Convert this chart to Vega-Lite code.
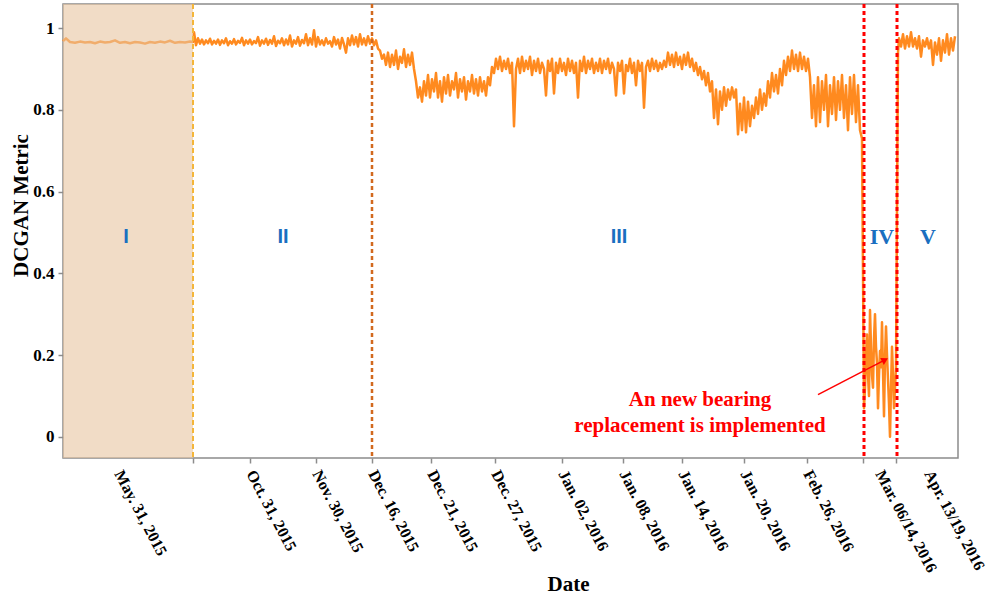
{
  "$schema": "https://vega.github.io/schema/vega-lite/v6.json",
  "width": 895,
  "height": 454,
  "autosize": "none",
  "padding": {"left": 63, "top": 4, "right": 36, "bottom": 139},
  "background": "white",
  "config": {
    "view": {"stroke": "#8c8c8c", "strokeWidth": 1.5},
    "axis": {"grid": false, "domain": false, "tickColor": "#8c8c8c", "tickSize": 5, "tickWidth": 1.5,
      "labelFont": "Liberation Serif", "labelFontWeight": "bold", "labelColor": "black",
      "titleFont": "Liberation Serif", "titleFontWeight": "bold", "titleColor": "black"}
  },
  "datasets": {
    "metric": [
      {"t":63,"v":0.968},{"t":66,"v":0.975},{"t":70,"v":0.966},{"t":75,"v":0.964},{"t":80,"v":0.967},{"t":85,"v":0.965},{"t":90,"v":0.966},{"t":95,"v":0.963},{"t":100,"v":0.967},{"t":105,"v":0.965},{"t":110,"v":0.966},{"t":115,"v":0.970},{"t":120,"v":0.964},{"t":125,"v":0.966},{"t":130,"v":0.963},{"t":135,"v":0.966},{"t":140,"v":0.965},{"t":145,"v":0.962},{"t":150,"v":0.966},{"t":155,"v":0.964},{"t":160,"v":0.967},{"t":165,"v":0.965},{"t":170,"v":0.969},{"t":175,"v":0.964},{"t":180,"v":0.966},{"t":185,"v":0.965},{"t":190,"v":0.967},{"t":193,"v":0.966},
      {"t":194,"v":0.99},{"t":196,"v":0.958},{"t":198,"v":0.975},{"t":200,"v":0.962},{"t":202,"v":0.972},{"t":204,"v":0.96},{"t":206,"v":0.97},{"t":208,"v":0.963},{"t":210,"v":0.974},{"t":212,"v":0.96},{"t":214,"v":0.969},{"t":216,"v":0.962},{"t":218,"v":0.972},{"t":220,"v":0.959},{"t":222,"v":0.97},{"t":224,"v":0.963},{"t":226,"v":0.975},{"t":228,"v":0.958},{"t":230,"v":0.968},{"t":232,"v":0.962},{"t":234,"v":0.973},{"t":236,"v":0.96},{"t":238,"v":0.969},{"t":240,"v":0.964},{"t":242,"v":0.976},{"t":244,"v":0.958},{"t":246,"v":0.97},{"t":248,"v":0.962},{"t":250,"v":0.972},{"t":252,"v":0.96},{"t":254,"v":0.968},{"t":256,"v":0.963},{"t":258,"v":0.978},{"t":260,"v":0.957},{"t":262,"v":0.97},{"t":264,"v":0.962},{"t":266,"v":0.974},{"t":268,"v":0.959},{"t":270,"v":0.971},{"t":272,"v":0.962},{"t":274,"v":0.98},{"t":276,"v":0.956},{"t":278,"v":0.969},{"t":280,"v":0.963},{"t":282,"v":0.975},{"t":284,"v":0.958},{"t":286,"v":0.972},{"t":288,"v":0.96},{"t":290,"v":0.982},{"t":292,"v":0.955},{"t":294,"v":0.97},{"t":296,"v":0.962},{"t":298,"v":0.978},{"t":300,"v":0.957},{"t":302,"v":0.971},{"t":304,"v":0.963},{"t":306,"v":0.985},{"t":308,"v":0.958},{"t":310,"v":0.975},{"t":312,"v":0.96},{"t":314,"v":0.995},{"t":316,"v":0.955},{"t":318,"v":0.978},{"t":320,"v":0.96},{"t":322,"v":0.97},{"t":324,"v":0.958},{"t":326,"v":0.975},{"t":328,"v":0.962},{"t":330,"v":0.968},{"t":332,"v":0.955},{"t":334,"v":0.978},{"t":336,"v":0.96},{"t":338,"v":0.972},{"t":340,"v":0.95},{"t":342,"v":0.976},{"t":344,"v":0.96},{"t":346,"v":0.94},{"t":348,"v":0.975},{"t":350,"v":0.958},{"t":352,"v":0.982},{"t":354,"v":0.96},{"t":356,"v":0.978},{"t":358,"v":0.955},{"t":360,"v":0.985},{"t":362,"v":0.96},{"t":364,"v":0.975},{"t":366,"v":0.958},{"t":368,"v":0.98},{"t":370,"v":0.962},{"t":372,"v":0.975},
      {"t":374,"v":0.958},{"t":376,"v":0.97},{"t":378,"v":0.95},{"t":380,"v":0.945},{"t":382,"v":0.925},{"t":384,"v":0.935},{"t":386,"v":0.91},{"t":388,"v":0.94},{"t":390,"v":0.905},{"t":392,"v":0.935},{"t":394,"v":0.91},{"t":396,"v":0.945},{"t":398,"v":0.9},{"t":400,"v":0.93},{"t":402,"v":0.915},{"t":404,"v":0.948},{"t":406,"v":0.905},{"t":408,"v":0.935},{"t":410,"v":0.91},{"t":412,"v":0.94},{"t":414,"v":0.9},{"t":416,"v":0.87},{"t":418,"v":0.83},{"t":420,"v":0.855},{"t":422,"v":0.82},{"t":424,"v":0.87},{"t":426,"v":0.835},{"t":428,"v":0.885},{"t":430,"v":0.83},{"t":432,"v":0.875},{"t":434,"v":0.845},{"t":436,"v":0.89},{"t":438,"v":0.83},{"t":440,"v":0.87},{"t":442,"v":0.82},{"t":444,"v":0.88},{"t":446,"v":0.84},{"t":448,"v":0.885},{"t":450,"v":0.835},{"t":452,"v":0.87},{"t":454,"v":0.85},{"t":456,"v":0.89},{"t":458,"v":0.83},{"t":460,"v":0.875},{"t":462,"v":0.845},{"t":464,"v":0.88},{"t":466,"v":0.825},{"t":468,"v":0.87},{"t":470,"v":0.845},{"t":472,"v":0.885},{"t":474,"v":0.84},{"t":476,"v":0.875},{"t":478,"v":0.835},{"t":480,"v":0.88},{"t":482,"v":0.845},{"t":484,"v":0.87},{"t":486,"v":0.835},{"t":488,"v":0.88},{"t":490,"v":0.86},{"t":492,"v":0.905},{"t":494,"v":0.89},{"t":496,"v":0.925},{"t":498,"v":0.9},{"t":500,"v":0.93},{"t":502,"v":0.895},{"t":504,"v":0.92},{"t":506,"v":0.9},{"t":508,"v":0.925},{"t":510,"v":0.89},{"t":512,"v":0.915},{"t":514,"v":0.76},{"t":516,"v":0.9},{"t":518,"v":0.925},{"t":520,"v":0.89},{"t":522,"v":0.93},{"t":524,"v":0.895},{"t":526,"v":0.92},{"t":528,"v":0.9},{"t":530,"v":0.93},{"t":532,"v":0.885},{"t":534,"v":0.92},{"t":536,"v":0.895},{"t":538,"v":0.925},{"t":540,"v":0.89},{"t":542,"v":0.915},{"t":544,"v":0.9},{"t":546,"v":0.835},{"t":548,"v":0.92},{"t":550,"v":0.895},{"t":552,"v":0.925},{"t":554,"v":0.84},{"t":556,"v":0.915},{"t":558,"v":0.89},{"t":560,"v":0.925},{"t":562,"v":0.895},{"t":564,"v":0.915},{"t":566,"v":0.885},{"t":568,"v":0.925},{"t":570,"v":0.895},{"t":572,"v":0.92},{"t":574,"v":0.89},{"t":576,"v":0.915},{"t":578,"v":0.83},{"t":580,"v":0.92},{"t":582,"v":0.895},{"t":584,"v":0.93},{"t":586,"v":0.89},{"t":588,"v":0.92},{"t":590,"v":0.9},{"t":592,"v":0.925},{"t":594,"v":0.89},{"t":596,"v":0.915},{"t":598,"v":0.895},{"t":600,"v":0.925},{"t":602,"v":0.89},{"t":604,"v":0.92},{"t":606,"v":0.9},{"t":608,"v":0.925},{"t":610,"v":0.89},{"t":612,"v":0.915},{"t":614,"v":0.9},{"t":616,"v":0.835},{"t":618,"v":0.915},{"t":620,"v":0.895},{"t":622,"v":0.92},{"t":624,"v":0.84},{"t":626,"v":0.91},{"t":628,"v":0.895},{"t":630,"v":0.925},{"t":632,"v":0.89},{"t":634,"v":0.915},{"t":636,"v":0.86},{"t":638,"v":0.92},{"t":640,"v":0.895},{"t":642,"v":0.915},{"t":644,"v":0.805},{"t":646,"v":0.905},{"t":648,"v":0.92},{"t":650,"v":0.895},{"t":652,"v":0.925},{"t":654,"v":0.9},{"t":656,"v":0.92},{"t":658,"v":0.895},{"t":660,"v":0.915},{"t":662,"v":0.9},{"t":664,"v":0.92},{"t":666,"v":0.905},{"t":668,"v":0.94},{"t":670,"v":0.91},{"t":672,"v":0.935},{"t":674,"v":0.905},{"t":676,"v":0.94},{"t":678,"v":0.91},{"t":680,"v":0.93},{"t":682,"v":0.9},{"t":684,"v":0.935},{"t":686,"v":0.91},{"t":688,"v":0.94},{"t":690,"v":0.905},{"t":692,"v":0.925},{"t":694,"v":0.895},{"t":696,"v":0.915},{"t":698,"v":0.885},{"t":700,"v":0.905},{"t":702,"v":0.875},{"t":704,"v":0.895},{"t":706,"v":0.86},{"t":708,"v":0.89},{"t":710,"v":0.845},{"t":712,"v":0.87},{"t":714,"v":0.78},{"t":716,"v":0.85},{"t":718,"v":0.765},{"t":720,"v":0.845},{"t":722,"v":0.8},{"t":724,"v":0.855},{"t":726,"v":0.81},{"t":728,"v":0.85},{"t":730,"v":0.825},{"t":732,"v":0.855},{"t":734,"v":0.83},{"t":736,"v":0.85},{"t":738,"v":0.74},{"t":740,"v":0.815},{"t":742,"v":0.75},{"t":744,"v":0.83},{"t":746,"v":0.745},{"t":748,"v":0.82},{"t":750,"v":0.76},{"t":752,"v":0.81},{"t":754,"v":0.78},{"t":756,"v":0.83},{"t":758,"v":0.79},{"t":760,"v":0.85},{"t":762,"v":0.8},{"t":764,"v":0.84},{"t":766,"v":0.81},{"t":768,"v":0.87},{"t":770,"v":0.83},{"t":772,"v":0.89},{"t":774,"v":0.845},{"t":776,"v":0.885},{"t":778,"v":0.84},{"t":780,"v":0.9},{"t":782,"v":0.86},{"t":784,"v":0.92},{"t":786,"v":0.885},{"t":788,"v":0.93},{"t":790,"v":0.895},{"t":792,"v":0.945},{"t":794,"v":0.9},{"t":796,"v":0.935},{"t":798,"v":0.895},{"t":800,"v":0.94},{"t":802,"v":0.9},{"t":804,"v":0.93},{"t":806,"v":0.895},{"t":808,"v":0.925},{"t":810,"v":0.88},{"t":812,"v":0.78},{"t":814,"v":0.86},{"t":816,"v":0.76},{"t":818,"v":0.88},{"t":820,"v":0.77},{"t":822,"v":0.87},{"t":824,"v":0.8},{"t":826,"v":0.885},{"t":828,"v":0.76},{"t":830,"v":0.86},{"t":832,"v":0.79},{"t":834,"v":0.88},{"t":836,"v":0.775},{"t":838,"v":0.87},{"t":840,"v":0.8},{"t":842,"v":0.885},{"t":844,"v":0.78},{"t":846,"v":0.86},{"t":848,"v":0.75},{"t":850,"v":0.88},{"t":852,"v":0.79},{"t":854,"v":0.885},{"t":856,"v":0.77},{"t":858,"v":0.86},{"t":860,"v":0.75},{"t":862,"v":0.73},
      {"t":864,"v":0.07},{"t":865,"v":0.12},{"t":866,"v":0.2},{"t":867,"v":0.25},{"t":868,"v":0.15},{"t":869,"v":0.1},{"t":870,"v":0.31},{"t":871,"v":0.22},{"t":872,"v":0.15},{"t":873,"v":0.12},{"t":874,"v":0.24},{"t":875,"v":0.3},{"t":876,"v":0.22},{"t":877,"v":0.18},{"t":878,"v":0.07},{"t":879,"v":0.15},{"t":880,"v":0.21},{"t":881,"v":0.17},{"t":882,"v":0.28},{"t":883,"v":0.16},{"t":884,"v":0.05},{"t":885,"v":0.19},{"t":886,"v":0.27},{"t":887,"v":0.2},{"t":888,"v":0.14},{"t":889,"v":0.08},{"t":890,"v":0.0},{"t":891,"v":0.12},{"t":892,"v":0.22},{"t":893,"v":0.15},{"t":894,"v":0.07},{"t":895,"v":0.12},{"t":896,"v":0.17},
      {"t":898,"v":0.94},{"t":899,"v":0.975},{"t":901,"v":0.955},{"t":903,"v":0.985},{"t":905,"v":0.95},{"t":907,"v":0.98},{"t":909,"v":0.955},{"t":911,"v":0.99},{"t":913,"v":0.955},{"t":915,"v":0.975},{"t":917,"v":0.95},{"t":919,"v":0.98},{"t":921,"v":0.93},{"t":923,"v":0.97},{"t":925,"v":0.955},{"t":927,"v":0.975},{"t":929,"v":0.95},{"t":931,"v":0.97},{"t":933,"v":0.91},{"t":935,"v":0.965},{"t":937,"v":0.935},{"t":939,"v":0.975},{"t":941,"v":0.92},{"t":943,"v":0.97},{"t":945,"v":0.94},{"t":947,"v":0.985},{"t":949,"v":0.935},{"t":951,"v":0.975},{"t":953,"v":0.945},{"t":955,"v":0.98}
    ],
    "stages": [
      {"t":126,"v":0.489,"label":"I"},
      {"t":283,"v":0.489,"label":"II"},
      {"t":619,"v":0.489,"label":"III"}
    ],
    "lateStages": [
      {"t":882,"v":0.489,"label":"IV"},
      {"t":928,"v":0.489,"label":"V"}
    ]
  },
  "encoding": {
    "x": {"field": "t", "type": "quantitative",
      "scale": {"domain": [63, 958], "nice": false, "zero": false},
      "axis": {
        "title": "Date", "titleFontSize": 21, "titleX": 505, "titleY": 132, "titleAlign": "center", "titleBaseline": "alphabetic",
        "values": [118, 193, 250, 316, 372, 431, 495, 562, 623, 682, 744, 807, 863, 879, 896, 928],
        "labelExpr": "datum.value == 118 ? 'May. 31, 2015' : datum.value == 250 ? 'Oct. 31, 2015' : datum.value == 316 ? 'Nov. 30, 2015' : datum.value == 372 ? 'Dec. 16, 2015' : datum.value == 431 ? 'Dec. 21, 2015' : datum.value == 495 ? 'Dec. 27, 2015' : datum.value == 562 ? 'Jan. 02, 2016' : datum.value == 623 ? 'Jan. 08, 2016' : datum.value == 682 ? 'Jan. 14, 2016' : datum.value == 744 ? 'Jan. 20, 2016' : datum.value == 807 ? 'Feb. 26, 2016' : datum.value == 879 ? 'Mar. 06/14, 2016' : datum.value == 928 ? 'Apr. 13/19, 2016' : ''",
        "labelAngle": 62, "labelAlign": "left", "labelBaseline": "middle", "labelFontSize": 16, "labelPadding": 8,
        "labelOverlap": false, "labelBound": false, "labelFlush": false,
        "tickOpacity": {"condition": {"test": "datum.value == 118 || datum.value == 879 || datum.value == 928", "value": 0}, "value": 1}
      }
    },
    "y": {"field": "v", "type": "quantitative",
      "scale": {"domain": [-0.052, 1.059], "nice": false, "zero": false},
      "axis": {
        "title": "DCGAN Metric", "titleFontSize": 21, "titleAngle": -90, "titleX": -36, "titleY": 201, "titleAlign": "center", "titleBaseline": "alphabetic",
        "values": [0, 0.2, 0.4, 0.6, 0.8, 1], "format": ".1~f", "labelFontSize": 17, "labelPadding": 4
      }
    }
  },
  "layer": [
    {"data": {"name": "metric"}, "mark": {"type": "line", "color": "#ff8a1f", "strokeWidth": 2.5, "strokeJoin": "round"}},
    {"data": {"values": [{"start": 63, "end": 193}]},
      "mark": {"type": "rect", "color": "#e8c5a0", "opacity": 0.6},
      "encoding": {"x": {"field": "start", "type": "quantitative"}, "x2": {"field": "end"}, "y": null}},
    {"data": {"values": [{"t": 193}]},
      "mark": {"type": "rule", "color": "#f4b63a", "strokeWidth": 2, "strokeDash": [5, 3]},
      "encoding": {"y": null}},
    {"data": {"values": [{"t": 372}]},
      "mark": {"type": "rule", "color": "#d2691e", "strokeWidth": 2.5, "strokeDash": [4, 3]},
      "encoding": {"y": null}},
    {"data": {"values": [{"t": 864}, {"t": 897}]},
      "mark": {"type": "rule", "color": "#ff0000", "strokeWidth": 3, "strokeDash": [4, 3]},
      "encoding": {"y": null}},
    {"data": {"name": "stages"},
      "mark": {"type": "text", "color": "#1a6fc0", "font": "Liberation Sans", "fontWeight": "bold", "fontSize": 20},
      "encoding": {"text": {"field": "label"}}},
    {"data": {"name": "lateStages"},
      "mark": {"type": "text", "color": "#1a6fc0", "font": "Liberation Serif", "fontWeight": "bold", "fontSize": 22},
      "encoding": {"text": {"field": "label"}}},
    {"data": {"values": [{"t": 818, "v": 0.103, "t2": 885, "v2": 0.188}]},
      "mark": {"type": "rule", "color": "#ff0000", "strokeWidth": 1.5},
      "encoding": {"x2": {"field": "t2"}, "y2": {"field": "v2"}}},
    {"data": {"values": [{"t": 885, "v": 0.188}]},
      "mark": {"type": "point", "shape": "triangle-right", "filled": true, "color": "#ff0000", "size": 60, "angle": 332, "opacity": 1}},
    {"data": {"values": [{"t": 700, "v": 0.09, "note": ["An new bearing", "replacement is implemented"]}]},
      "mark": {"type": "text", "color": "#ff0000", "font": "Liberation Serif", "fontWeight": "bold", "fontSize": 21, "lineHeight": 26, "align": "center", "baseline": "middle"},
      "encoding": {"text": {"field": "note"}}}
  ]
}
